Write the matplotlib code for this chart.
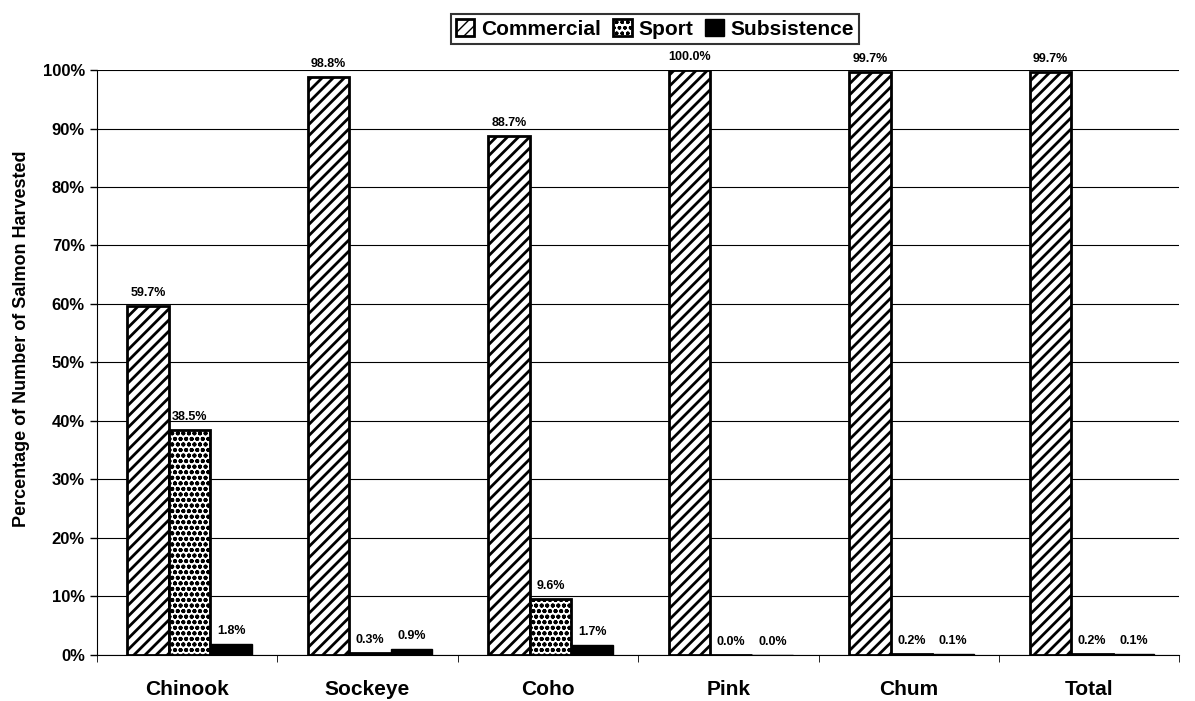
import matplotlib
matplotlib.use("Agg")
import matplotlib.pyplot as plt
import numpy as np

plt.rcParams['font.family'] = ['Liberation Sans', 'DejaVu Sans']
plt.rcParams['font.weight'] = 'bold'

species = ["Chinook", "Sockeye", "Coho", "Pink", "Chum", "Total"]
commercial = [59.7, 98.8, 88.7, 100.0, 99.7, 99.7]
sport = [38.5, 0.3, 9.6, 0.0, 0.2, 0.2]
subsistence = [1.8, 0.9, 1.7, 0.0, 0.1, 0.1]
yticks = [0, 10, 20, 30, 40, 50, 60, 70, 80, 90, 100]

fig = plt.figure(figsize=(11.95, 7.01), dpi=100)
ax = fig.add_axes([0.081, 0.066, 0.906, 0.834])

x = np.arange(len(species))
w = 0.23

with plt.rc_context({'hatch.linewidth': 2.0}):
    b1 = ax.bar(x - w + 0.015, commercial, w, color="white", edgecolor="black", hatch="///", linewidth=2, label="Commercial", zorder=3)
with plt.rc_context({'hatch.linewidth': 1.3}):
    b2 = ax.bar(x + 0.015, sport, w, color="white", edgecolor="black", hatch="ooo", linewidth=2, label="Sport", zorder=3)
b3 = ax.bar(x + w + 0.015, subsistence, w, color="black", edgecolor="black", linewidth=1, label="Subsistence", zorder=3)

for bars, vals in [(b1, commercial), (b2, sport), (b3, subsistence)]:
    for bar, v in zip(bars, vals):
        ax.text(bar.get_x() + bar.get_width() / 2, v + 1.2, f"{v:.1f}%",
                ha="center", va="bottom", fontsize=9, fontweight="bold", zorder=4)

ax.set_xlim(-0.5, len(species) - 0.5)
ax.set_ylim(0, 100)
ax.set_yticks(yticks)
ax.set_yticklabels([f"{t}%" for t in yticks], fontsize=12, fontweight="bold")
ax.set_xticks(x)
ax.set_xticklabels(species, fontsize=15, fontweight="bold")
ax.set_xticks(np.arange(len(species) + 1) - 0.5, minor=True)
ax.tick_params(axis="x", which="major", length=0, pad=18)
ax.tick_params(axis="x", which="minor", length=5, direction="out")
ax.tick_params(axis="y", length=5, width=1)
ax.yaxis.grid(True, color="black", linewidth=0.8, zorder=0)
ax.set_axisbelow(True)
for s in ["top", "right"]:
    ax.spines[s].set_visible(False)
ax.set_ylabel("Percentage of Number of Salmon Harvested", fontsize=13, fontweight="bold")
ax.yaxis.set_label_coords(-0.062, 0.54)

leg = fig.legend(handles=[b1, b2, b3], loc="upper center", bbox_to_anchor=(0.548, 0.995),
                 ncol=3, frameon=True, fancybox=False, edgecolor="black",
                 prop={"size": 15, "weight": "bold"}, handlelength=0.9, handleheight=0.9,
                 handletextpad=0.3, columnspacing=0.6, borderpad=0.25)
leg.get_frame().set_linewidth(1.5)

fig.savefig("out.png", dpi=100)
